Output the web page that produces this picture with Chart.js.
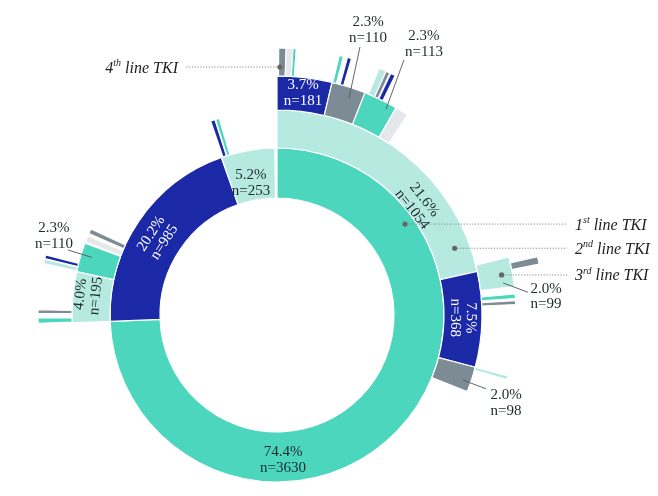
<!DOCTYPE html>
<html><head><meta charset="utf-8">
<script src="https://cdn.jsdelivr.net/npm/chart.js@4.4.0/dist/chart.umd.min.js"></script>
<style>html,body{margin:0;padding:0;background:#fff;overflow:hidden}#wrap{position:relative;width:658px;height:496px}</style>
</head><body><div id="wrap"><canvas id="c"></canvas></div>
<script>
// ---- palette keys ----
const COLORS = {teal:'#4cd6bd', mint:'#b6eae1', navy:'#1b29a7', gray:'#7d8b94', light:'#e4e8eb', gap:'rgba(0,0,0,0)'};

// ---- 1st line TKI (inner ring), percent of all patients, clockwise from 12 o'clock ----
const ring1Values = [74.4, 20.2, 5.2];
const ring1Kinds  = ['teal','navy','mint'];
const ring1Counts = [3630, 985, 253];

// ---- 2nd line TKI ----
const ring2Values = [21.6, 7.5, 2.0, 43.3, 4.0, 2.3, 0.1, 0.5, 0.2, 0.4, 12.85, 0.35, 0.05, 0.3];
const ring2Kinds  = ['mint','navy','gray','gap','mint','teal','gap','light','gap','gray','gap','navy','gap','teal'];
const ring2Counts = [1054, 368, 98, null, 195, 110, null, null, null, null, null, null, null, null];

// ---- 3rd line TKI ----
const ring3Values = [3.7, 2.3, 2.3, 0.9, 11.9, 2.0, 0.5, 0.3, 0.15, 0.25, 4.8, 0.25, 45.1, 0.35, 0.3, 0.25, 3.1, 0.3, 0.05, 0.25];
const ring3Kinds  = ['navy','gray','teal','light','gap','mint','gap','teal','gap','gray','gap','mint','gap','teal','gap','gray','gap','mint','gap','navy'];
const ring3Counts = [181, 110, 113, null, null, 99, null, null, null, null, null, null, null, null, null, null, null, null, null, null];

// ---- 4th line TKI ----
const ring4Values = [0.1, 0.45, 0.4, 0.2, 2.6, 0.25, 0.25, 0.25, 1.75, 0.45, 0.25, 0.05, 0.3, 14.2, 0.45];
const ring4Kinds  = ['gap','gray','light','teal','gap','teal','gap','navy','gap','mint','gray','gap','navy','gap','gray'];

// ---- ring legend labels ----
const ringNames = [['1','st'],['2','nd'],['3','rd'],['4','th']];

function padRing(values, kinds) {
  const s = values.reduce((a, b) => a + b, 0);
  return s < 100 ? {values: values.concat([100 - s]), kinds: kinds.concat(['gap'])} : {values, kinds};
}
function makeDataset(values, kinds, weight) {
  const r = padRing(values, kinds);
  return {
    data: r.values,
    backgroundColor: r.kinds.map(k => COLORS[k]),
    borderColor: '#ffffff',
    borderWidth: r.kinds.map(k => k === 'gap' ? 0 : 1.2),
    weight: weight
  };
}

const rings = [
  {values: ring1Values, counts: ring1Counts},
  {values: ring2Values, counts: ring2Counts},
  {values: ring3Values, counts: ring3Counts},
  {values: ring4Values, counts: []}
];
// dataset index for each ring (Chart.js draws dataset 0 outermost)
const ringDs = [3, 2, 1, 0];

// labels: ring (0-based), segment, anchor angle in % of circle, radius ([frac of ring] or px), style
const segLabels = [
  {ring:0, seg:0, pct:49.33, frac:0.56, mode:'flat', color:'#1e2b2b'},
  {ring:0, seg:1, pct:84.14, frac:0.50, mode:'rot',  color:'#ffffff'},
  {ring:0, seg:2, pct:96.9,  frac:0.35, mode:'flat', color:'#1e2b2b'},
  {ring:1, seg:0, pct:14.44, frac:0.32, mode:'rot',  color:'#1e2b2b'},
  {ring:1, seg:1, pct:25.25, frac:0.50, mode:'rot',  color:'#ffffff'},
  {ring:2, seg:0, pct:1.86,  frac:0.54, mode:'flat', color:'#ffffff'},
  {ring:1, seg:4, pct:76.67, frac:0.60, mode:'rot',  color:'#1e2b2b'},
  {ring:2, seg:1, pct:4.92,  rpx:299.2, mode:'flat', color:'#1e2b2b', lead:[4.78,280.6,5.1,228.6]},
  {ring:2, seg:2, pct:7.91,  rpx:308.3, mode:'flat', color:'#1e2b2b', lead:[7.35,284.9,7.75,233]},
  {ring:2, seg:5, pct:23.9,  rpx:269.7, mode:'flat', color:'#1e2b2b', lead:[22.76,228.3,23.56,252]},
  {ring:1, seg:2, pct:30.83, rpx:245.3, mode:'flat', color:'#1e2b2b', lead:[30.36,197,30.4,221.7]},
  {ring:1, seg:5, pct:80.42, rpx:236.6, mode:'flat', color:'#1e2b2b', lead:[79.8,218.9,79.8,193.9]}
];
// legend pointers: ring, angle %, frac within ring, side
const legendPts = [
  {ring:0, pct:15.17, frac:0.80, side:'right'},
  {ring:1, pct:19.28, frac:0.60, side:'right'},
  {ring:2, pct:22.19, frac:0.68, side:'right'},
  {ring:3, pct:0.19,  frac:0.32, side:'left'}
];

const SERIF = '"Liberation Serif", "DejaVu Serif", serif';

const labelPlugin = {
  id: 'sunLabels',
  afterDatasetsDraw(chart) {
    const ctx = chart.ctx;
    const a0 = chart.getDatasetMeta(3).data[0];
    const cx = a0.x, cy = a0.y;
    const ang = pct => -Math.PI / 2 + pct / 100 * 2 * Math.PI;
    const pt = (pct, r) => [cx + r * Math.cos(ang(pct)), cy + r * Math.sin(ang(pct))];
    const ringR = (ring, frac) => {
      const el = chart.getDatasetMeta(ringDs[ring]).data[0];
      return el.innerRadius + frac * (el.outerRadius - el.innerRadius);
    };
    ctx.save();
    // leader lines for outside labels
    segLabels.forEach(L => {
      if (!L.lead) return;
      const p1 = pt(L.lead[0], L.lead[1]), p2 = pt(L.lead[2], L.lead[3]);
      ctx.beginPath(); ctx.moveTo(p1[0], p1[1]); ctx.lineTo(p2[0], p2[1]);
      ctx.strokeStyle = '#555'; ctx.lineWidth = 0.9; ctx.stroke();
    });
    // segment labels
    ctx.font = '15px ' + SERIF;
    ctx.textAlign = 'center'; ctx.textBaseline = 'middle';
    segLabels.forEach(L => {
      const v = rings[L.ring].values[L.seg], n = rings[L.ring].counts[L.seg];
      const lines = [v.toFixed(1) + '%', 'n=' + n];
      const r = L.rpx !== undefined ? L.rpx : ringR(L.ring, L.frac);
      const p = pt(L.pct, r);
      ctx.save();
      ctx.translate(p[0], p[1]);
      if (L.mode === 'rot') {
        let rot = ang(L.pct) + Math.PI / 2;
        if (rot > Math.PI) rot -= 2 * Math.PI;
        ctx.rotate(rot);
      }
      ctx.fillStyle = L.color;
      ctx.fillText(lines[0], 0, -7.8);
      ctx.fillText(lines[1], 0, 7.8);
      ctx.restore();
    });
    // legend pointers
    const rightTextX = cx + 298, rightLineEnd = cx + 290;
    const leftTextX = cx - 99, leftLineEnd = cx - 92;
    legendPts.forEach((L, i) => {
      const p = pt(L.pct, ringR(L.ring, L.frac));
      ctx.beginPath();
      ctx.setLineDash([1.2, 1.6]);
      ctx.strokeStyle = '#8a8a8a'; ctx.lineWidth = 1;
      ctx.moveTo(p[0], p[1]);
      ctx.lineTo(L.side === 'right' ? rightLineEnd : leftLineEnd, p[1]);
      ctx.stroke();
      ctx.setLineDash([]);
      ctx.beginPath(); ctx.arc(p[0], p[1], 2.6, 0, 2 * Math.PI);
      ctx.fillStyle = '#666'; ctx.fill();
      // text with superscript
      const [num, sup] = ringNames[i];
      const big = 'italic 16px ' + SERIF, small = 'italic 10px ' + SERIF;
      ctx.font = big; const w1 = ctx.measureText(num).width;
      const rest = ' line TKI'; const w3 = ctx.measureText(rest).width;
      ctx.font = small; const w2 = ctx.measureText(sup).width;
      let x = L.side === 'right' ? rightTextX : leftTextX - (w1 + w2 + w3);
      const y = p[1];
      ctx.fillStyle = '#1e1e1e'; ctx.textAlign = 'left'; ctx.textBaseline = 'alphabetic';
      ctx.font = big; ctx.fillText(num, x, y + 5.5); x += w1;
      ctx.font = small; ctx.fillText(sup, x, y - 1); x += w2;
      ctx.font = big; ctx.fillText(rest, x, y + 5.5);
    });
    ctx.restore();
  }
};

new Chart(document.getElementById('c'), {
  type: 'doughnut',
  data: {
    datasets: [
      makeDataset(ring4Values, ring4Kinds, 28),
      makeDataset(ring3Values, ring3Kinds, 34),
      makeDataset(ring2Values, ring2Kinds, 38),
      makeDataset(ring1Values, ring1Kinds, 50)
    ]
  },
  options: {
    responsive: true,
    maintainAspectRatio: false,
    animation: false,
    events: [],
    radius: 267,
    cutout: '43.82%',
    layout: {padding: {left: 0, right: 104, top: 134, bottom: 0}},
    plugins: {legend: {display: false}, tooltip: {enabled: false}}
  },
  plugins: [labelPlugin]
});
</script>
</body></html>
